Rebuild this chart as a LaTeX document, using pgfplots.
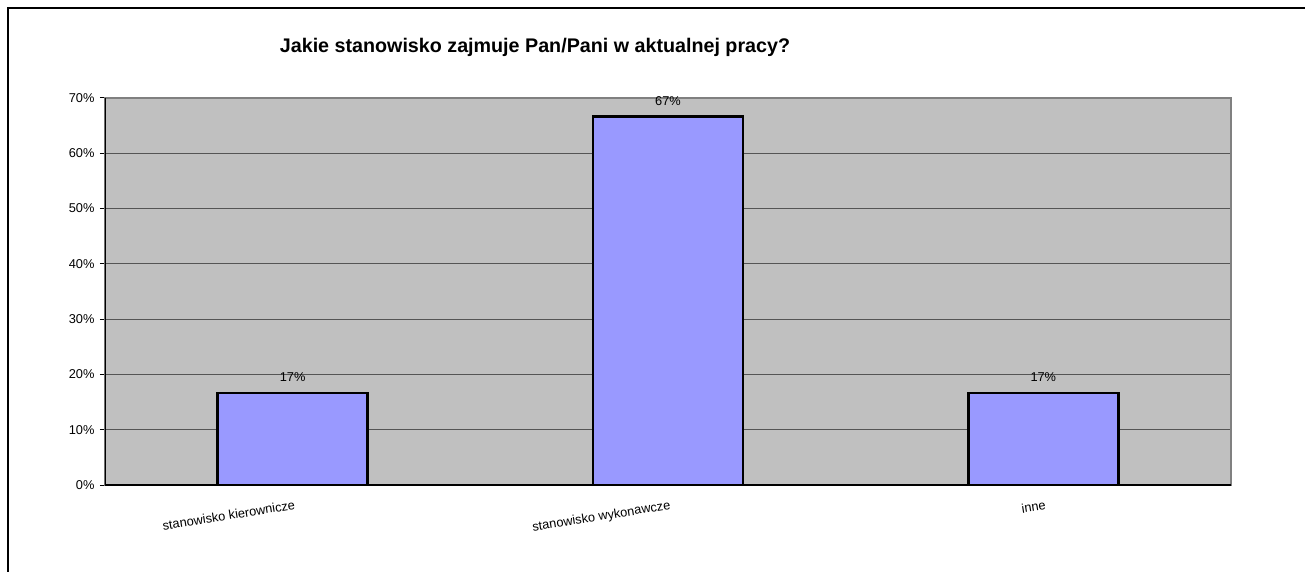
\documentclass[border=0pt]{standalone}
\usepackage{fontspec}
\setmainfont{Liberation Sans}
\usepackage{pgfplots}
\pgfplotsset{compat=1.18}
\definecolor{plotbg}{HTML}{C0C0C0}
\definecolor{barfill}{HTML}{9999FF}
\definecolor{gridc}{HTML}{555555}
\begin{document}
\begin{tikzpicture}[x=1pt,y=1pt]
% page: 1px of the reference = 1pt, axis box at (105..1231, 98..485)
\useasboundingbox (-105,-86) rectangle (1200,485);
\draw[line width=2pt] (-97,-120) -- (-97,477) -- (1240,477);
\node[anchor=base, font=\fontsize{19.7}{24}\selectfont\bfseries] at (430,432) {Jakie stanowisko zajmuje Pan/Pani w aktualnej pracy?};
\begin{axis}[
  at={(0,0)}, anchor=south west,
  scale only axis, width=1126pt, height=387pt,
  xmin=-0.5, xmax=2.5, ymin=0, ymax=70,
  axis background/.style={fill=plotbg},
  axis line style={draw=gray, line width=1.5pt},
  ytick={0,10,...,70},
  yticklabel={\pgfmathprintnumber{\tick}\%},
  /pgf/number format/assume math mode=true,
  ymajorgrids, grid style={draw=gridc, line width=1.2pt},
  tick align=outside, tick style={draw=black, line width=1pt},
  major tick length=5pt,
  ytick pos=left,
  xtick={0,1,2},
  xticklabels={stanowisko kierownicze, stanowisko wykonawcze, inne},
  x tick style={draw=none},
  xtick pos=bottom,
  extra x ticks={-0.5,0.5,1.5,2.5},
  extra x tick labels={},
  extra x tick style={tick style={draw=black, line width=1pt}, major tick length=5pt},
  ticklabel style={font=\fontsize{12.8}{15}\selectfont},
  yticklabel style={xshift=-2pt},
  xticklabel style={rotate=9, anchor=north east, inner sep=0pt, yshift=-10pt},
  ybar, bar width=150pt,
  nodes near coords={\pgfmathprintnumber[fixed,precision=0]{\pgfplotspointmeta}\%},
  nodes near coords style={font=\fontsize{12.8}{15}\selectfont, anchor=base, yshift=11pt},
]
\addplot[fill=barfill, draw=black, line width=2.6pt] coordinates {(0,16.67) (1,66.67) (2,16.67)};
\draw[black, line width=1.8pt] (rel axis cs:0,1) -- (rel axis cs:0,0) -- (rel axis cs:1,0);
\end{axis}
\end{tikzpicture}
\end{document}
